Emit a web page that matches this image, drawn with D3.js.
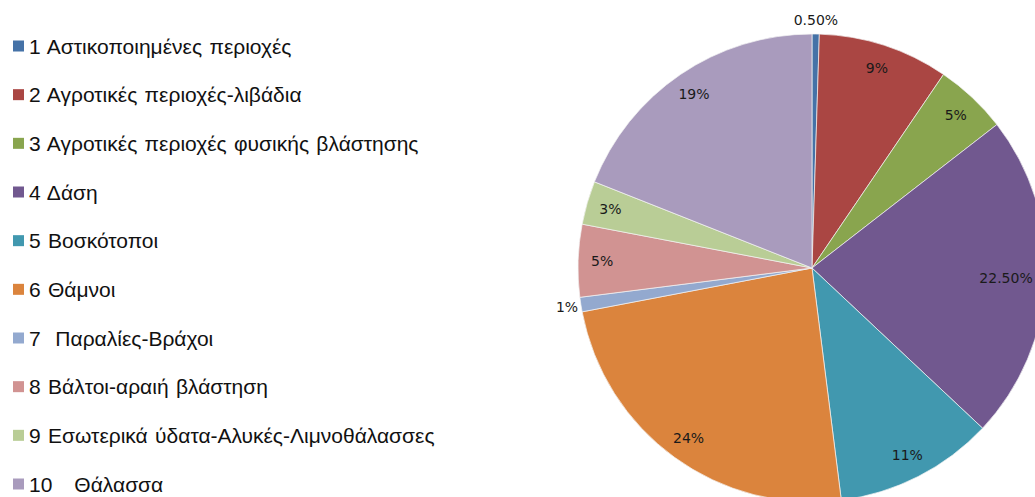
<!DOCTYPE html>
<html>
<head>
<meta charset="utf-8">
<script src="https://cdnjs.cloudflare.com/ajax/libs/d3/7.8.5/d3.min.js"></script>
<style>
  body { margin: 0; background: #fff; }
  text { white-space: pre; }
</style>
</head>
<body>
<div id="chart"></div>
<script>
var categories = [
    '1 Αστικοποιημένες περιοχές',
    '2 Αγροτικές περιοχές-λιβάδια',
    '3 Αγροτικές περιοχές φυσικής βλάστησης',
    '4 Δάση',
    '5 Βοσκότοποι',
    '6 Θάμνοι',
    '7  Παραλίες-Βράχοι',
    '8 Βάλτοι-αραιή βλάστηση',
    '9 Εσωτερικά ύδατα-Αλυκές-Λιμνοθάλασσες',
    '10   Θάλασσα'
];
var values = [0.5, 9, 5, 22.5, 11, 24, 1, 5, 3, 19];
var valueLabels = ['0.50%', '9%', '5%', '22.50%', '11%', '24%', '1%', '5%', '3%', '19%'];
var colors = ['#4572A7', '#AA4643', '#89A54E', '#71588F', '#4198AF',
              '#DB843D', '#93A9CF', '#D19392', '#B9CD96', '#A99BBD'];
// small slices get their label outside the pie
var outside = [true, false, false, false, false, false, true, false, false, false];

var width = 1035, height = 497;
var cx = 812, cy = 268, radius = 234;

var svg = d3.select('#chart').append('svg')
            .attr('width', width)
            .attr('height', height);

var pie = d3.pie().sort(null).value(function (d) { return d; });
var arc = d3.arc().innerRadius(0).outerRadius(radius);
var labelArc = d3.arc().innerRadius(210).outerRadius(210);
var outerArc = d3.arc().innerRadius(248).outerRadius(248);

var arcs = pie(values);

var g = svg.append('g').attr('transform', 'translate(' + cx + ',' + cy + ')');

g.selectAll('path')
 .data(arcs)
 .enter()
 .append('path')
 .attr('d', arc)
 .style('fill', function (d, i) { return colors[i]; })
 .style('stroke', '#f4f4f4')
 .style('stroke-width', 0.7);

g.selectAll('text.pct')
 .data(arcs)
 .enter()
 .append('text')
 .attr('class', 'pct')
 .attr('transform', function (d, i) {
     var p = outside[i] ? outerArc.centroid(d) : labelArc.centroid(d);
     // keep the label inside the window
     p[0] = Math.min(p[0], width - cx - 29);
     return 'translate(' + p[0] + ',' + p[1] + ')';
 })
 .attr('text-anchor', 'middle')
 .attr('dy', '0.36em')
 .style('font-family', 'DejaVu Sans, sans-serif')
 .style('font-size', '14px')
 .style('fill', '#1a1a1a')
 .text(function (d, i) { return valueLabels[i]; });

// legend
var legend = svg.append('g');
var rowY = d3.scalePoint().domain(d3.range(categories.length)).range([46, 484]);

var rows = legend.selectAll('g')
                 .data(categories)
                 .enter()
                 .append('g')
                 .attr('transform', function (d, i) { return 'translate(0,' + rowY(i) + ')'; });

rows.append('rect')
    .attr('x', 13)
    .attr('y', -5.5)
    .attr('width', 11)
    .attr('height', 11)
    .style('fill', function (d, i) { return colors[i]; });

rows.append('text')
    .attr('x', 29)
    .attr('dy', '0.36em')
    .style('font-family', 'Liberation Sans, Arial, sans-serif')
    .style('font-size', '21px')
    .style('word-spacing', '1.5px')
    .style('fill', '#111')
    .text(function (d) { return d; });
</script>
</body>
</html>
